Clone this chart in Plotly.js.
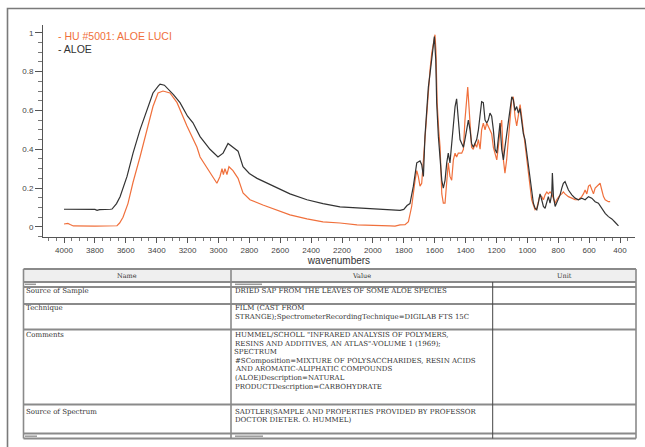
<!DOCTYPE html>
<html>
<head>
<meta charset="utf-8">
<script src="https://cdn.plot.ly/plotly-3.0.1.min.js"></script>
<style>
html,body{margin:0;padding:0;background:#fff;}
#chart{width:645px;height:447px;}
</style>
</head>
<body>
<div id="chart"></div>
<script>
// ---- Series: ALOE (black) ----
const wnAloe = [4000,3900,3800,3786,3770,3700,3689,3660,3637,3592,3553,3508,3463,3424,3390,3378,3350,3333,3290,3249,3200,3165,3119,3055,3003,2970,2938,2906,2873,2841,2800,2750,2647,2537,2427,2323,2213,2103,1999,1889,1857,1824,1800,1779,1760,1738,1716,1695,1684,1673,1663,1652,1641,1630,1619,1609,1602,1593,1587,1576,1565,1554,1544,1533,1522,1512,1501,1490,1479,1468,1458,1447,1436,1425,1414,1404,1393,1382,1371,1361,1350,1339,1328,1317,1306,1296,1285,1274,1263,1253,1242,1231,1220,1209,1198,1188,1177,1166,1155,1145,1134,1123,1112,1101,1091,1080,1069,1058,1047,1037,1026,1015,1004,993,982,972,961,950,939,929,918,907,896,885,874,864,853,842,838,831,820,810,799,788,777,767,756,745,734,712,691,669,648,626,604,583,561,540,518,496,475,453,432,410];
const absAloe = [0.091,0.091,0.090,0.085,0.089,0.091,0.092,0.12,0.155,0.26,0.38,0.50,0.60,0.69,0.725,0.735,0.73,0.716,0.68,0.64,0.57,0.536,0.465,0.40,0.36,0.38,0.43,0.41,0.39,0.31,0.275,0.25,0.21,0.17,0.14,0.12,0.103,0.098,0.093,0.088,0.088,0.085,0.09,0.11,0.12,0.21,0.33,0.34,0.32,0.26,0.465,0.60,0.72,0.79,0.86,0.95,0.98,0.86,0.64,0.465,0.345,0.24,0.20,0.24,0.33,0.38,0.33,0.43,0.52,0.62,0.66,0.55,0.45,0.43,0.41,0.45,0.50,0.55,0.50,0.43,0.41,0.43,0.45,0.50,0.586,0.645,0.64,0.55,0.535,0.55,0.586,0.57,0.50,0.40,0.38,0.47,0.535,0.40,0.345,0.41,0.48,0.55,0.62,0.67,0.655,0.60,0.62,0.586,0.61,0.55,0.48,0.45,0.38,0.33,0.26,0.17,0.122,0.096,0.088,0.122,0.17,0.14,0.105,0.096,0.13,0.156,0.122,0.17,0.277,0.156,0.105,0.122,0.14,0.165,0.20,0.225,0.234,0.216,0.19,0.165,0.148,0.14,0.148,0.14,0.156,0.148,0.13,0.122,0.096,0.07,0.053,0.041,0.024,0.005];

// ---- Series: HU #5001: ALOE LUCI (orange) ----
const wnLuci = [4000,3975,3960,3940,3800,3700,3657,3640,3618,3586,3553,3508,3463,3424,3391,3359,3314,3268,3204,3139,3119,3055,3010,2990,2977,2968,2958,2945,2932,2906,2873,2841,2796,2712,2621,2537,2427,2323,2213,2103,1889,1857,1824,1792,1770,1749,1727,1716,1706,1695,1684,1673,1663,1652,1641,1630,1619,1609,1598,1592,1584,1574,1565,1554,1544,1533,1522,1512,1501,1490,1479,1468,1458,1447,1425,1414,1404,1393,1386,1378,1371,1361,1350,1339,1328,1317,1306,1296,1285,1274,1263,1253,1242,1231,1220,1209,1198,1188,1177,1166,1155,1145,1134,1123,1112,1101,1091,1080,1069,1058,1047,1037,1026,1015,1004,993,982,972,961,950,939,929,918,907,896,885,874,864,853,842,831,820,810,799,788,777,767,756,734,712,691,669,648,637,626,615,604,594,583,572,561,550,540,529,518,507,496,475,464];
const absLuci = [0.015,0.018,0.012,0.005,0.004,0.004,0.006,0.02,0.05,0.12,0.23,0.36,0.50,0.62,0.69,0.70,0.69,0.64,0.52,0.41,0.36,0.28,0.225,0.26,0.30,0.27,0.30,0.27,0.31,0.29,0.25,0.175,0.14,0.113,0.088,0.062,0.041,0.026,0.02,0.01,0.005,0.004,0.01,0.012,0.027,0.105,0.24,0.29,0.26,0.21,0.225,0.345,0.465,0.62,0.74,0.81,0.895,0.947,0.99,0.91,0.64,0.50,0.41,0.17,0.122,0.122,0.24,0.33,0.26,0.24,0.345,0.38,0.36,0.38,0.38,0.40,0.55,0.69,0.72,0.62,0.50,0.41,0.40,0.43,0.41,0.45,0.40,0.50,0.535,0.50,0.535,0.52,0.50,0.48,0.41,0.38,0.345,0.41,0.50,0.55,0.345,0.277,0.345,0.45,0.57,0.655,0.67,0.57,0.52,0.57,0.63,0.57,0.50,0.41,0.33,0.277,0.21,0.14,0.113,0.088,0.096,0.13,0.165,0.156,0.14,0.165,0.18,0.17,0.18,0.17,0.148,0.122,0.14,0.156,0.165,0.17,0.18,0.17,0.156,0.148,0.14,0.14,0.156,0.17,0.19,0.17,0.21,0.216,0.19,0.17,0.20,0.21,0.216,0.225,0.19,0.156,0.14,0.13,0.13];

const seriesNames = ['HU #5001: ALOE LUCI', 'ALOE'];
const seriesColors = ['#f0703c', '#333333'];

const xTickVals = [4000,3800,3600,3400,3200,3000,2800,2600,2400,2200,2000,1800,1600,1400,1200,1000,800,600,400];
const xTickText = xTickVals.map(String);
const yTickVals = [0,0.2,0.4,0.6,0.8,1];
const yTickText = ['0','0.2','0.4','0.6','0.8','1'];
const xTitle = 'wavenumbers';

// ---- Table ----
const tableHeader = ['Name', 'Value', 'Unit'];
const tableNames = ['Source of Sample', 'Technique', 'Comments', 'Source of Spectrum'];
const tableValues = [
  ['DRIED SAP FROM THE LEAVES OF SOME ALOE SPECIES'],
  ['FILM (CAST FROM', 'STRANGE);SpectrometerRecordingTechnique=DIGILAB FTS 15C'],
  ['HUMMEL/SCHOLL "INFRARED ANALYSIS OF POLYMERS,', 'RESINS AND ADDITIVES, AN ATLAS"-VOLUME 1 (1969);', 'SPECTRUM', '#SComposition=MIXTURE OF POLYSACCHARIDES, RESIN ACIDS', 'AND AROMATIC-ALIPHATIC COMPOUNDS', '(ALOE)Description=NATURAL', 'PRODUCTDescription=CARBOHYDRATE'],
  ['SADTLER(SAMPLE AND PROPERTIES PROVIDED BY PROFESSOR', 'DOCTOR DIETER. O. HUMMEL)']
];

// ---- geometry helpers (pixel -> paper) ----
const W = 645, H = 447;
const M = {l: 43, r: 10, t: 25, b: 210};
const PW = W - M.l - M.r, PH = H - M.t - M.b;
const px = x => (x - M.l) / PW;
const py = y => (H - M.b - y) / PH;

const shapes = [];
const annotations = [];
const serif = '"DejaVu Serif", "Liberation Serif", serif';
function hline(x0, x1, y, color, w) {
  shapes.push({type:'line', xref:'paper', yref:'paper', x0:px(x0), x1:px(x1), y0:py(y), y1:py(y), line:{color:color, width:w}});
}
function vline(x, y0, y1, color, w) {
  shapes.push({type:'line', xref:'paper', yref:'paper', x0:px(x), x1:px(x), y0:py(y0), y1:py(y1), line:{color:color, width:w}});
}
function text(t, x, y, anchor, size, color) {
  annotations.push({text: t, xref:'paper', yref:'paper', x:px(x), y:py(y), xanchor:anchor, yanchor:'middle', showarrow:false, borderpad:0,
    font:{family:serif, size:size, color:color}});
}

// outer frame
shapes.push({type:'rect', xref:'paper', yref:'paper', x0:px(7.5), x1:px(660), y0:py(8.5), y1:py(470), line:{color:'#7a7a7a', width:1.6}, fillcolor:'rgba(0,0,0,0)'});

// table geometry
const tL = 23.5, tC1 = 231, tC2 = 492.7, tR = 636;
const rowEdges = [269, 282, 287, 304, 329.5, 404.5, 433.5, 438.5];
shapes.push({type:'rect', xref:'paper', yref:'paper', x0:px(tL), x1:px(tR), y0:py(269), y1:py(282), line:{width:0}, fillcolor:'#efefef', layer:'below'});
rowEdges.forEach(y => hline(tL, tR, y, '#8a8a8a', 1.8));
vline(tL, 269, 438.5, '#8a8a8a', 1.6);
vline(tC1, 269, 438.5, '#8a8a8a', 1.6);
vline(tC2, 282, 438.5, '#444444', 1);
vline(tR, 269, 438.5, '#8a8a8a', 1.6);
// clipped text remnants in thin rows
hline(25, 36, 284.3, '#9a9a9a', 1.5);
hline(235, 262, 284.3, '#9a9a9a', 1.5);
hline(25, 37, 436.2, '#9a9a9a', 1.5);
hline(235, 263, 436.2, '#9a9a9a', 1.5);

// header text
text(tableHeader[0], (tL + tC1) / 2, 275.5, 'center', 6.5, '#333');
text(tableHeader[1], (tC1 + tC2) / 2, 275.5, 'center', 6.5, '#333');
text(tableHeader[2], (tC2 + tR) / 2, 275.5, 'center', 6.5, '#333');

// rows
const rowTextTop = [291, 308, 335, 411.5];
const lineStep = 8.6;
tableNames.forEach((n, i) => {
  text(n, tL + 1.5, rowTextTop[i], 'left', 7, '#333');
  tableValues[i].forEach((v, j) => text(v, tC1 + 2.5, rowTextTop[i] + j * lineStep, 'left', 7, '#333'));
});

// legend text
annotations.push({text: '- ' + seriesNames[0], xref:'paper', yref:'paper', x:px(57), y:py(36), xanchor:'left', yanchor:'middle', showarrow:false, borderpad:0,
  font:{family:'"Liberation Sans", Arial, sans-serif', size:10.5, color:seriesColors[0]}});
annotations.push({text: '- ' + seriesNames[1], xref:'paper', yref:'paper', x:px(57), y:py(49), xanchor:'left', yanchor:'middle', showarrow:false, borderpad:0,
  font:{family:'"Liberation Sans", Arial, sans-serif', size:10.5, color:seriesColors[1]}});

const traces = [
  {x: wnLuci, y: absLuci, type:'scatter', mode:'lines', name: seriesNames[0], line:{color:seriesColors[0], width:1.2}, showlegend:false},
  {x: wnAloe, y: absAloe, type:'scatter', mode:'lines', name: seriesNames[1], line:{color:seriesColors[1], width:1.2}, showlegend:false}
];

const tickFont = {family:'"Liberation Sans", Arial, sans-serif', size:8, color:'#444'};
const layout = {
  width: W, height: H,
  margin: M,
  paper_bgcolor:'#fff', plot_bgcolor:'#fff',
  showlegend:false,
  xaxis: {
    range:[4136, 303], tickvals:xTickVals, ticktext:xTickText,
    ticks:'outside', ticklen:5, tickcolor:'#555', tickwidth:1,
    minor:{dtick:50, tick0:0, ticks:'outside', ticklen:3, tickcolor:'#777', showgrid:false},
    showline:true, linecolor:'#555', linewidth:1,
    showgrid:false, zeroline:false, tickfont:tickFont,
    title:{text:xTitle, font:{family:'"Liberation Sans", Arial, sans-serif', size:10, color:'#333'}, standoff:0}
  },
  yaxis: {
    range:[-0.052, 1.04], tickvals:yTickVals, ticktext:yTickText,
    ticks:'outside', ticklen:7, tickcolor:'#555', tickwidth:1,
    minor:{dtick:0.05, tick0:0, ticks:'outside', ticklen:4, tickcolor:'#777', showgrid:false},
    showline:true, linecolor:'#555', linewidth:1,
    showgrid:false, zeroline:false, tickfont:tickFont
  },
  shapes: shapes,
  annotations: annotations
};

Plotly.newPlot('chart', traces, layout, {displayModeBar:false, staticPlot:true});
</script>
</body>
</html>
